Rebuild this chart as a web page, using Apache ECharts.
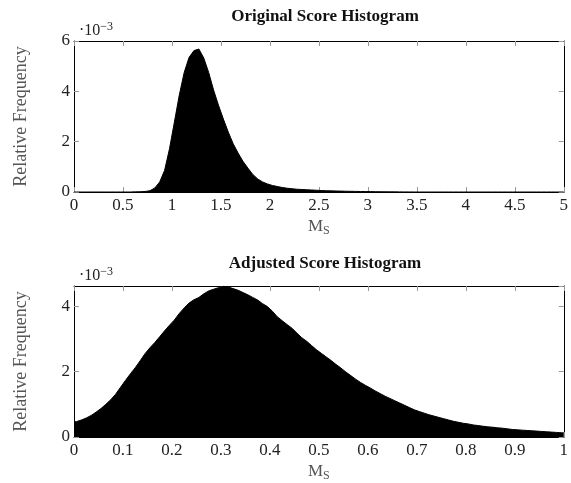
<!DOCTYPE html>
<html>
<head>
<meta charset="utf-8">
<title>Score Histograms</title>
<script src="https://cdn.jsdelivr.net/npm/echarts@6/dist/echarts.min.js"></script>
<style>
  html, body { margin: 0; padding: 0; background: #fff; }
  #chart { width: 571px; height: 483px; }
</style>
</head>
<body>
<div id="chart"></div>
<script>
// values are in units of 10^-3 (as printed on the y axes)
var origBinWidth = 0.05; // bins start at 0
var origFreq = [
  0, 0, 0, 0, 0, 0, 0, 0, 0, 0,
  0, 0, 0.005, 0.01, 0.02, 0.05, 0.16, 0.40, 0.86, 1.72,
  2.78, 3.85, 4.75, 5.35, 5.62, 5.68, 5.32, 4.75, 4.05, 3.45,
  2.90, 2.38, 1.92, 1.55, 1.22, 0.95, 0.70, 0.52, 0.40, 0.32,
  0.26, 0.22, 0.18, 0.15, 0.13, 0.11, 0.10, 0.09, 0.08, 0.07,
  0.06, 0.05, 0.045, 0.04, 0.035, 0.03, 0.027, 0.024, 0.02, 0.018,
  0.015, 0.012, 0.01, 0.008, 0.006, 0.005, 0.004, 0.003, 0.002, 0.001,
  0, 0, 0, 0, 0, 0, 0, 0, 0, 0,
  0, 0, 0, 0, 0, 0, 0, 0, 0, 0,
  0, 0, 0, 0, 0, 0, 0, 0, 0, 0
];

var adjBinWidth = 0.01;
var adjFreq = [
  0.47, 0.52, 0.58, 0.66, 0.76, 0.87, 1.00, 1.14, 1.31, 1.52,
  1.73, 1.93, 2.12, 2.33, 2.55, 2.73, 2.89, 3.07, 3.25, 3.42,
  3.58, 3.78, 3.95, 4.10, 4.20, 4.27, 4.38, 4.47, 4.52, 4.57,
  4.61, 4.59, 4.54, 4.49, 4.42, 4.35, 4.27, 4.19, 4.08, 3.99,
  3.85, 3.68, 3.56, 3.44, 3.33, 3.18, 3.04, 2.93, 2.80, 2.67,
  2.56, 2.45, 2.34, 2.22, 2.11, 1.99, 1.88, 1.77, 1.67, 1.58,
  1.50, 1.41, 1.33, 1.25, 1.18, 1.11, 1.04, 0.97, 0.90, 0.83,
  0.78, 0.73, 0.68, 0.64, 0.60, 0.56, 0.52, 0.48, 0.45, 0.42,
  0.40, 0.37, 0.35, 0.33, 0.31, 0.30, 0.28, 0.27, 0.25, 0.23,
  0.22, 0.21, 0.20, 0.19, 0.18, 0.17, 0.16, 0.15, 0.14, 0.13
];

var titles = ['Original Score Histogram', 'Adjusted Score Histogram'];
var yLabel = 'Relative Frequency';

// bin centres (plus the two outer edges) so the filled outline reaches the frame
function toPoints(freq, w) {
  var pts = [[0, freq[0]]];
  freq.forEach(function (v, i) { pts.push([(i + 0.5) * w, v]); });
  pts.push([freq.length * w, freq[freq.length - 1]]);
  return pts;
}
var origData = toPoints(origFreq, origBinWidth);
var adjData = toPoints(adjFreq, adjBinWidth);

var FONT = '"Liberation Serif", "DejaVu Serif", serif';
var tickColor = '#999';

function xAxes(gridIndex, max, interval) {
  return [{
    gridIndex: gridIndex, type: 'value', min: 0, max: max, interval: interval,
    position: 'bottom',
    axisLine: { onZero: false, lineStyle: { color: '#000', width: 1 } },
    axisTick: { inside: true, length: 5, lineStyle: { color: tickColor } },
    axisLabel: {
      color: '#222', fontFamily: FONT, fontSize: 17, margin: 5,
      formatter: function (v) { return String(Math.round(v * 10) / 10); }
    },
    splitLine: { show: false },
    name: '{m|M}{s|S}', nameLocation: 'middle', nameGap: 25,
    nameTextStyle: {
      rich: {
        m: { fontFamily: FONT, fontSize: 17, color: '#555' },
        s: { fontFamily: FONT, fontSize: 12, color: '#555', verticalAlign: 'bottom', padding: [8, 0, 0, 0] }
      }
    }
  }, {
    gridIndex: gridIndex, type: 'value', min: 0, max: max, interval: interval,
    position: 'top',
    axisLine: { onZero: false, lineStyle: { color: '#000', width: 1 } },
    axisTick: { inside: true, length: 5, lineStyle: { color: tickColor } },
    axisLabel: { show: false }, splitLine: { show: false }
  }];
}

function yAxes(gridIndex, max) {
  return [{
    gridIndex: gridIndex, type: 'value', min: 0, max: max, interval: 2,
    position: 'left',
    axisLine: { show: true, onZero: false, lineStyle: { color: '#000', width: 1 } },
    axisTick: { show: true, inside: true, length: 5, lineStyle: { color: tickColor } },
    axisLabel: { color: '#222', fontFamily: FONT, fontSize: 17, margin: 4, showMaxLabel: max === 6 },
    splitLine: { show: false },
    name: yLabel, nameLocation: 'middle', nameGap: 44, nameRotate: 90,
    nameTextStyle: { fontFamily: FONT, fontSize: 18, color: '#555' }
  }, {
    gridIndex: gridIndex, type: 'value', min: 0, max: max, interval: 2,
    position: 'right',
    axisLine: { show: true, onZero: false, lineStyle: { color: '#000', width: 1 } },
    axisTick: { show: true, inside: true, length: 5, lineStyle: { color: tickColor } },
    axisLabel: { show: false }, splitLine: { show: false }
  }];
}

function expTitle(top) {
  return {
    text: '·10{sup|−3}', left: 74, top: top,
    textStyle: {
      fontFamily: FONT, fontSize: 16, fontWeight: 'normal', color: '#222',
      rich: { sup: { fontFamily: FONT, fontSize: 12, color: '#222', verticalAlign: 'top', padding: [0, 0, 8, 0] } }
    }
  };
}

var chart = echarts.init(document.getElementById('chart'), null, { renderer: 'canvas' });
chart.setOption({
  animation: false,
  backgroundColor: '#fff',
  title: [
    { text: titles[0], left: 320, textAlign: 'center', top: 3,
      textStyle: { fontFamily: FONT, fontSize: 17, fontWeight: 'bold', color: '#111' } },
    { text: titles[1], left: 320, textAlign: 'center', top: 250,
      textStyle: { fontFamily: FONT, fontSize: 17, fontWeight: 'bold', color: '#111' } },
    expTitle(16),
    expTitle(261)
  ],
  grid: [
    { left: 74, right: 5, top: 41, height: 151 },
    { left: 74, right: 5, top: 286, height: 152 }
  ],
  xAxis: xAxes(0, 5, 0.5).concat(xAxes(1, 1, 0.1)),
  yAxis: yAxes(0, 6).concat(yAxes(1, 4.62)),
  series: [{
    type: 'line', xAxisIndex: 0, yAxisIndex: 0, data: origData,
    showSymbol: false,
    lineStyle: { color: '#000', width: 1 },
    areaStyle: { color: '#000', opacity: 1 }
  }, {
    type: 'line', xAxisIndex: 2, yAxisIndex: 2, data: adjData,
    showSymbol: false, lineStyle: { color: '#000', width: 1 },
    areaStyle: { color: '#000', opacity: 1 }
  }]
});
</script>
</body>
</html>
